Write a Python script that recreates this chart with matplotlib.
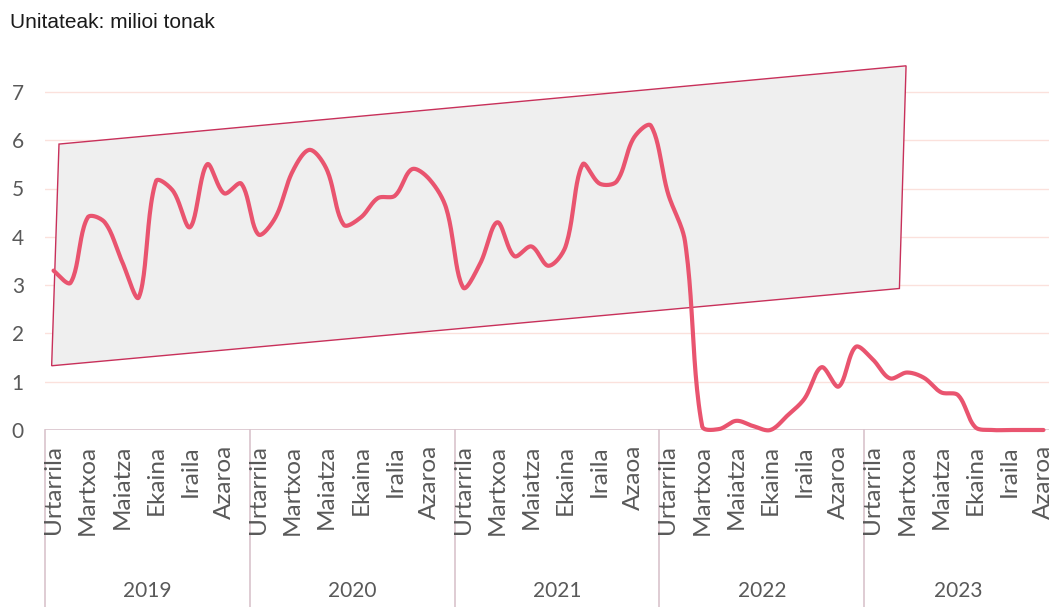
import numpy as np
import matplotlib
matplotlib.use("Agg")
import matplotlib.pyplot as plt
from matplotlib.patches import Polygon
from matplotlib.transforms import blended_transform_factory

# ---------------- data ----------------
years = ["2019", "2020", "2021", "2022", "2023"]
months_per_year = [12, 12, 12, 12, 11]
month_labels = [
    ["Urtarrila", "Martxoa", "Maiatza", "Ekaina", "Iraila", "Azaroa"],
    ["Urtarrila", "Martxoa", "Maiatza", "Ekaina", "Iralia", "Azaroa"],
    ["Urtarrila", "Martxoa", "Maiatza", "Ekaina", "Iraila", "Azaoa"],
    ["Urtarrila", "Martxoa", "Maiatza", "Ekaina", "Iraila", "Azaroa"],
    ["Urtarrila", "Martxoa", "Maiatza", "Ekaina", "Iraila", "Azaroa"],
]
values_2019 = [3.30, 3.05, 4.40, 4.30, 3.50, 2.75, 5.15, 4.95, 4.20, 5.50, 4.90, 5.10]
values_2020 = [4.05, 4.40, 5.35, 5.80, 5.40, 4.25, 4.40, 4.80, 4.85, 5.40, 5.20, 4.60]
values_2021 = [2.95, 3.45, 4.30, 3.60, 3.80, 3.40, 3.80, 5.50, 5.10, 5.15, 6.05, 6.30]
values_2022 = [4.90, 3.90, 0.08, 0.02, 0.19, 0.08, 0.00, 0.30, 0.65, 1.30, 0.90, 1.72]
values_2023 = [1.46, 1.07, 1.19, 1.08, 0.78, 0.72, 0.06, 0.00, 0.00, 0.00, 0.00]
# highlight band (parallelogram) corners: (month index, value)
band_x = [-0.11, 0.32, 49.95, 49.56]
band_y = [1.33, 5.92, 7.54, 2.93]
title_text = "Unitateak: milioi tonak"
yticks = [0, 1, 2, 3, 4, 5, 6, 7]

values = np.array(values_2019 + values_2020 + values_2021 + values_2022 + values_2023)
n = len(values)
x = np.arange(n)

# ---------------- styling ----------------
W, H = 1049, 607
fig = plt.figure(figsize=(W / 100, H / 100), dpi=100)
left_px, right_px, zero_px, unit_px = 45, 1052, 430, 48.3
ymax = 8.0
ax = fig.add_axes([left_px / W, (H - zero_px) / H, (right_px - left_px) / W, ymax * unit_px / H])
ax.set_xlim(-0.5, n - 0.5)
ax.set_ylim(0, ymax)
for s in ax.spines.values():
    s.set_visible(False)

font = "Lato"
fs = 15
fs_month = 17.5
tick_col = "#595959"
grid_col = "#FBE1DC"
axis_col = "#D9C3CC"
line_col = "#E9546F"

# gridlines
for yv in yticks[1:]:
    ax.axhline(yv, color=grid_col, lw=1.0, zorder=0)
ax.axhline(0, color=axis_col, lw=1.2, zorder=1)

ax.set_yticks(yticks)
ax.set_yticklabels([str(v) for v in yticks], fontsize=fs, color=tick_col, family=font, ha="left")
ax.tick_params(axis="y", length=0, pad=24)
ax.set_xticks([])

# band
poly = Polygon(list(zip(band_x, band_y)), closed=True, facecolor="#EFEFEF",
               edgecolor="#C8305A", lw=1.0, zorder=2)
ax.add_patch(poly)

# smoothed line (Bezier through points, tangents weighted by segment length like Excel)
def smooth(xs, ys, sx_px, sy_px, steps=24):
    pts = np.column_stack([np.asarray(xs, float) * sx_px, np.asarray(ys, float) * sy_px])
    m = len(pts)
    tang = np.zeros_like(pts)
    for i in range(m):
        a = pts[max(i - 1, 0)]
        b = pts[min(i + 1, m - 1)]
        tang[i] = b - a
    d = np.linalg.norm(np.diff(pts, axis=0), axis=1)
    out = []
    for i in range(m - 1):
        p1, p2 = pts[i], pts[i + 1]
        dprev = d[i - 1] if i > 0 else d[i]
        dnext = d[i + 1] if i + 1 < m - 1 else d[i]
        c1 = p1 + tang[i] * d[i] / (dprev + d[i]) / 3.0 if (dprev + d[i]) > 0 else p1
        c2 = p2 - tang[i + 1] * d[i] / (d[i] + dnext) / 3.0 if (d[i] + dnext) > 0 else p2
        t = np.linspace(0, 1, steps, endpoint=False)[:, None]
        seg = ((1 - t) ** 3) * p1 + 3 * ((1 - t) ** 2) * t * c1 + 3 * (1 - t) * t ** 2 * c2 + t ** 3 * p2
        out.append(seg)
    out.append(pts[-1][None, :])
    out = np.vstack(out)
    return out[:, 0] / sx_px, out[:, 1] / sy_px

month_px = (right_px - left_px) / n
sx, sy = smooth(x, values, month_px, unit_px)
ax.plot(sx, sy, color=line_col, lw=3.0, solid_capstyle="round", solid_joinstyle="round", zorder=3, clip_on=False)

# hierarchical category axis
trans = blended_transform_factory(ax.transData, ax.transAxes)
ax_h_px = ymax * unit_px
start = 0
bounds = [-0.5]
for yi, (yr, nm) in enumerate(zip(years, months_per_year)):
    for k, lab in enumerate(month_labels[yi]):
        ax.text(start + 2 * k, -15 / ax_h_px, lab, transform=trans, rotation=90,
                ha="center", va="top", fontsize=fs_month, color=tick_col, family=font, clip_on=False)
    ax.text(start + (nm - 1) / 2, -161 / ax_h_px, yr, transform=trans, ha="center", va="center",
            fontsize=fs, color=tick_col, family=font, clip_on=False)
    start += nm
    bounds.append(start - 0.5)
for b in bounds:
    ax.plot([b, b], [0, -190 / ax_h_px], transform=trans, color=axis_col, lw=1.2, clip_on=False, zorder=1)

fig.text(10 / W, 1 - 23 / H, title_text, fontsize=15, family="Liberation Sans", color="#1a1a1a",
         ha="left", va="center")

fig.savefig("out.png", dpi=100)
